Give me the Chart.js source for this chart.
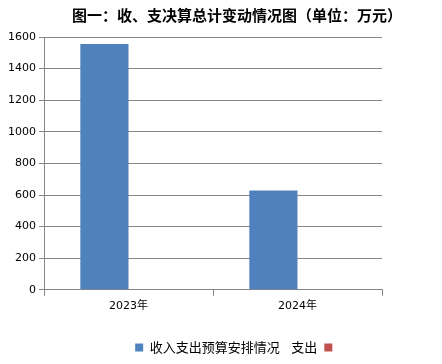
<!DOCTYPE html>
<html>
<head>
<meta charset="utf-8">
<script src="https://cdn.jsdelivr.net/npm/chart.js@4"></script>
<style>
html,body{margin:0;padding:0;background:#fff;}
#wrap{width:442px;height:364px;position:relative;}
</style>
</head>
<body>
<div id="wrap"><canvas id="c" width="442" height="364"></canvas></div>
<script>
const titleText = "图一：收、支决算总计变动情况图（单位：万元）";
const categories = ["2023年", "2024年"];
const seriesNames = ["收入支出预算安排情况", "支出"];
const incomeValues = [1556, 629];
const expenseValues = [0, 0];
const yTicks = [0, 200, 400, 600, 800, 1000, 1200, 1400, 1600];

const axisColor = "#868686";
const baseFont = "'DejaVu Sans', 'Noto Sans CJK SC', sans-serif";
const cjkFont = "'Noto Sans CJK SC', 'DejaVu Sans', sans-serif";

new Chart(document.getElementById("c"), {
  type: "bar",
  data: {
    labels: categories,
    datasets: [
      { label: seriesNames[0], data: incomeValues, backgroundColor: "#4F81BD", borderWidth: 0 },
      { label: seriesNames[1], data: expenseValues, backgroundColor: "#C0504D", borderWidth: 0 }
    ]
  },
  options: {
    responsive: false,
    animation: false,
    layout: { padding: { left: 32, right: 0, top: 0, bottom: 0 } },
    datasets: { bar: { categoryPercentage: 0.57, barPercentage: 1.0 } },
    plugins: {
      title: {
        display: true,
        text: titleText,
        color: "#000",
        font: { family: cjkFont, size: 15, weight: "bold" },
        padding: { top: 6, bottom: 13 }
      },
      legend: {
        position: "bottom",
        labels: {
          color: "#000",
          font: { family: cjkFont, size: 13 },
          boxWidth: 8,
          boxHeight: 8,
          padding: 7,
          generateLabels: (chart) => {
            const ds = chart.data.datasets;
            return [
              { text: ds[0].label + "    " + ds[1].label, fillStyle: ds[0].backgroundColor, strokeStyle: ds[0].backgroundColor, lineWidth: 0, datasetIndex: 0 },
              { text: "", fillStyle: ds[1].backgroundColor, strokeStyle: ds[1].backgroundColor, lineWidth: 0, datasetIndex: 1 }
            ];
          }
        }
      },
      tooltip: { enabled: false }
    },
    scales: {
      x: {
        grid: { display: true, drawOnChartArea: false, offset: true, color: axisColor, tickLength: 6, lineWidth: 1 },
        border: { display: true, color: axisColor, width: 1 },
        ticks: { color: "#000", font: { family: baseFont, size: 11 }, padding: 4 },
        afterFit: (s) => { s.height += 17; }
      },
      y: {
        min: 0,
        max: 1600,
        afterBuildTicks: (s) => { s.ticks = yTicks.map(v => ({ value: v })); },
        afterFit: (s) => { s.width = 12; s._computeLabelArea = () => undefined; },
        grid: { color: axisColor, tickLength: 5, lineWidth: 1 },
        border: { display: true, color: axisColor, width: 1 },
        ticks: { color: "#000", font: { family: baseFont, size: 11 }, padding: 3, callback: (v) => String(v) }
      },
      y2: {
        position: "right",
        display: true,
        grid: { display: false, drawOnChartArea: false },
        border: { display: false },
        ticks: { display: false },
        afterFit: (s) => { s.width = 60; }
      }
    }
  }
});
</script>
</body>
</html>
